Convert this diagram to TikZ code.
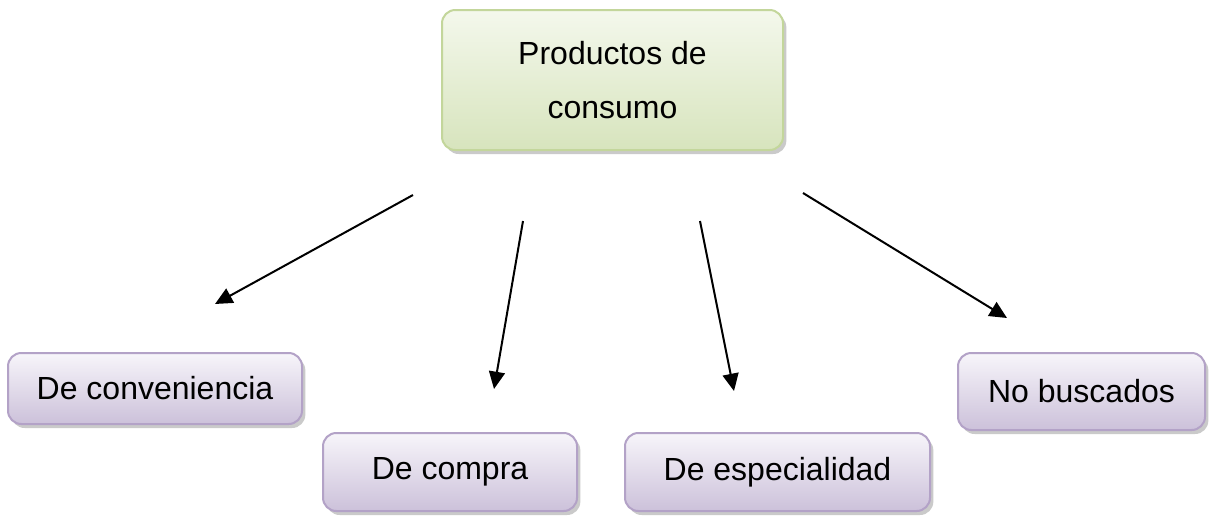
\documentclass[tikz,border=0pt]{standalone}
\usepackage{fontspec}
\setmainfont{Liberation Sans}
\usetikzlibrary{arrows.meta,shadows}
\definecolor{greenborder}{HTML}{C3D69B}
\definecolor{greentop}{HTML}{F4F8EC}
\definecolor{greenbot}{HTML}{D7E4BD}
\definecolor{purpborder}{HTML}{B3A2C7}
\definecolor{purptop}{HTML}{F7F5FA}
\definecolor{purpbot}{HTML}{CCC1DA}
\tikzset{
  px/.style={x=0.75pt,y=-0.75pt},
  basebox/.style={rectangle, rounded corners=10pt, line width=1.5pt, inner sep=0pt,
    align=center, font=\fontsize{24}{40}\selectfont,
    drop shadow={shadow xshift=2.5pt, shadow yshift=-3pt, opacity=0.35, fill=black!60}},
  greenbox/.style={basebox, draw=greenborder, top color=greentop, bottom color=greenbot},
  purpbox/.style={basebox, draw=purpborder, top color=purptop, bottom color=purpbot},
  arr/.style={line width=1.5pt, -{Triangle[length=13pt,width=12pt]}}
}
\begin{document}
\begin{tikzpicture}[px]
\useasboundingbox (0,0) rectangle (1210,518);
\node[greenbox, minimum width=255.75pt, minimum height=105pt] (top) at (612.5,80) {Productos de\\consumo};
\node[purpbox, minimum width=220.5pt, minimum height=53.25pt] (conv) at (155,388.5) {De conveniencia};
\node[purpbox, minimum width=190.5pt, minimum height=58.5pt] (comp) at (450,472) {De compra};
\node[purpbox, minimum width=228.75pt, minimum height=58.5pt] (esp) at (777.5,472) {De especialidad};
\node[purpbox, minimum width=185.25pt, minimum height=57.75pt] (nob) at (1081.5,391.5) {No buscados};
\coordinate (s1) at (413,195);
\coordinate (e1) at (215,304);
\coordinate (s2) at (523,221);
\coordinate (e2) at (494,389);
\coordinate (s3) at (700,221);
\coordinate (e3) at (734,391);
\coordinate (s4) at (803,193);
\coordinate (e4) at (1007,318);
\draw[arr] (s1) -- (e1);
\draw[arr] (s2) -- (e2);
\draw[arr] (s3) -- (e3);
\draw[arr] (s4) -- (e4);
\end{tikzpicture}
\end{document}
